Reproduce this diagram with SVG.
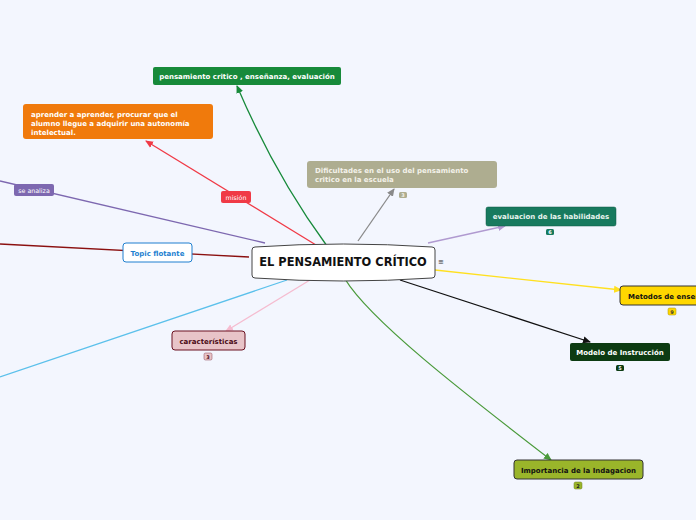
<svg xmlns="http://www.w3.org/2000/svg" width="696" height="520" viewBox="0 0 696 520">
<style>
text{font-family:"DejaVu Sans","Verdana",sans-serif;font-weight:bold}
.t{font-size:7px}
.w{fill:#ffffff}
.k{fill:#111111}
.c{fill:none;stroke-width:1.3}
.b{font-size:5px;text-anchor:middle}
</style>
<defs>
<marker id="ag" markerWidth="8" markerHeight="8" refX="7" refY="4" orient="auto" markerUnits="userSpaceOnUse"><path d="M0,0.5 L8,4 L0,7.5 Z" fill="#178a3a"/></marker>
<marker id="ar" markerWidth="8" markerHeight="8" refX="7" refY="4" orient="auto" markerUnits="userSpaceOnUse"><path d="M0,0.5 L8,4 L0,7.5 Z" fill="#f03a46"/></marker>
<marker id="agr" markerWidth="8" markerHeight="8" refX="7" refY="4" orient="auto" markerUnits="userSpaceOnUse"><path d="M0,0.5 L8,4 L0,7.5 Z" fill="#8a8a8a"/></marker>
<marker id="al" markerWidth="8" markerHeight="8" refX="7" refY="4" orient="auto" markerUnits="userSpaceOnUse"><path d="M0,0.5 L8,4 L0,7.5 Z" fill="#b09ad0"/></marker>
<marker id="ay" markerWidth="8" markerHeight="8" refX="7" refY="4" orient="auto" markerUnits="userSpaceOnUse"><path d="M0,0.5 L8,4 L0,7.5 Z" fill="#ffe020"/></marker>
<marker id="ak" markerWidth="8" markerHeight="8" refX="7" refY="4" orient="auto" markerUnits="userSpaceOnUse"><path d="M0,0.5 L8,4 L0,7.5 Z" fill="#111111"/></marker>
<marker id="ao" markerWidth="8" markerHeight="8" refX="7" refY="4" orient="auto" markerUnits="userSpaceOnUse"><path d="M0,0.5 L8,4 L0,7.5 Z" fill="#4a9a3a"/></marker>
<marker id="ap" markerWidth="8" markerHeight="8" refX="7" refY="4" orient="auto" markerUnits="userSpaceOnUse"><path d="M0,0.5 L8,4 L0,7.5 Z" fill="#f5bcd0"/></marker>
</defs>
<rect width="696" height="520" fill="#f3f6fe"/>
<g id="connectors">
<path class="c" d="M327 246 Q275 175 237 86" stroke="#178a3a" marker-end="url(#ag)"/>
<path class="c" d="M316 245 L146 141" stroke="#f03a46" marker-end="url(#ar)"/>
<path class="c" d="M358 241 L394 189" stroke="#8a8a8a" marker-end="url(#agr)"/>
<path class="c" d="M428 243 L505 226" stroke="#b09ad0" marker-end="url(#al)"/>
<path class="c" d="M435 270 L621 290" stroke="#ffe020" marker-end="url(#ay)"/>
<path class="c" d="M400 280 L590 342" stroke="#111111" marker-end="url(#ak)"/>
<path class="c" d="M345 279 C370 320 460 390 551 460" stroke="#4a9a3a" marker-end="url(#ao)"/>
<path class="c" d="M310 280 L226 331" stroke="#f5bcd0" marker-end="url(#ap)"/>
<path class="c" d="M287 280 L0 377" stroke="#5bc0eb"/>
<path class="c" d="M249 257 L0 244" stroke="#8b1010"/>
<path class="c" d="M265 243 L0 181" stroke="#7d68b0"/>
</g>
<g id="label-se-analiza">
<rect x="14" y="184" width="40" height="12" rx="2" fill="#7d68b0"/>
<text x="34" y="192.5" text-anchor="middle" style="font-size:6.3px;font-weight:normal" class="w">se analiza</text>
</g>
<g id="label-mision">
<rect x="221" y="191" width="30" height="12" rx="2" fill="#f03a46"/>
<text x="236" y="199.5" text-anchor="middle" style="font-size:6.3px;font-weight:normal" class="w">misión</text>
</g>
<g id="node-central">
<path d="M255 247 Q343 241 432 247 Q435 247 435 250 L435 275 Q435 278 432 278 Q343 284 255 278 Q252 278 252 275 L252 250 Q252 247 255 247 Z" fill="#ffffff" stroke="#444444" stroke-width="1"/>
<text x="343" y="266" text-anchor="middle" style="font-size:11.4px" class="k">EL PENSAMIENTO CRÍTICO</text>
<text x="441" y="264" text-anchor="middle" style="font-size:7px;font-weight:normal" fill="#333">≡</text>
</g>
<g id="node-pensamiento">
<rect x="153" y="67" width="188" height="18" rx="2" fill="#178a3a"/>
<text x="247" y="79" text-anchor="middle" class="t w">pensamiento critico , enseñanza, evaluación</text>
</g>
<g id="node-aprender">
<rect x="23" y="104" width="190" height="35" rx="3" fill="#f07a0c"/>
<text class="t w" x="31" y="117">aprender a aprender, procurar que el</text>
<text class="t w" x="31" y="126">alumno llegue a adquirir una autonomía</text>
<text class="t w" x="31" y="135">intelectual.</text>
</g>
<g id="node-dificultades">
<rect x="307" y="161" width="190" height="27" rx="3" fill="#aead90"/>
<text class="t" fill="#f4f2ea" x="315" y="173">Dificultades en el uso del pensamiento</text>
<text class="t" fill="#f4f2ea" x="315" y="182">critico en la escuela</text>
<rect x="399" y="192" width="8" height="6" rx="1.5" fill="#aead90"/>
<text class="b" x="403" y="197" fill="#f4f2ea">3</text>
</g>
<g id="node-evaluacion">
<rect x="486" y="207" width="130" height="19" rx="2" fill="#177a5e" stroke="#0f5a44" stroke-width="0.5"/>
<text x="551" y="219" text-anchor="middle" class="t" fill="#e8f4ee">evaluacion de las habilidades</text>
<rect x="546" y="229" width="8" height="6" rx="1.5" fill="#177a5e"/>
<text class="b" x="550" y="234" fill="#fff">6</text>
</g>
<g id="node-metodos">
<rect x="620" y="286" width="90" height="19" rx="3" fill="#ffd700" stroke="#333" stroke-width="1"/>
<text x="628" y="298.5" class="t k">Metodos de enseñanza</text>
<rect x="668" y="308" width="8" height="7" rx="1.5" fill="#ffd700" stroke="#aa9000" stroke-width="0.5"/>
<text class="b" x="672" y="313.5" fill="#333">9</text>
</g>
<g id="node-modelo">
<rect x="570" y="343" width="100" height="18" rx="2" fill="#0c3b12"/>
<text x="620" y="355" text-anchor="middle" class="t w">Modelo de Instrucción</text>
<rect x="616" y="365" width="8" height="6" rx="1.5" fill="#0c3b12"/>
<text class="b" x="620" y="370" fill="#fff">5</text>
</g>
<g id="node-importancia">
<rect x="514" y="460" width="129" height="19" rx="3" fill="#9ab52a" stroke="#333" stroke-width="1"/>
<text x="578.5" y="472.5" text-anchor="middle" class="t k">Importancia de la Indagacion</text>
<rect x="574" y="482" width="8" height="7" rx="1.5" fill="#9ab52a" stroke="#6a7d1c" stroke-width="0.5"/>
<text class="b" x="578" y="487.5" fill="#222">2</text>
</g>
<g id="node-caracteristicas">
<rect x="172" y="331" width="73" height="19" rx="3" fill="#e8c4c8" stroke="#6a1020" stroke-width="1"/>
<text x="208.5" y="343.5" text-anchor="middle" class="t" fill="#4a0a14">características</text>
<rect x="204" y="353" width="8" height="7" rx="1.5" fill="#e8c4c8" stroke="#8a4050" stroke-width="0.5"/>
<text class="b" x="208" y="358.5" fill="#4a0a14">3</text>
</g>
<g id="node-topic-flotante">
<rect x="123" y="243" width="69" height="19" rx="3" fill="#ffffff" stroke="#1e7fd0" stroke-width="1"/>
<text x="157.5" y="255.5" text-anchor="middle" class="t" fill="#1e7fd0">Topic flotante</text>
</g>
</svg>
